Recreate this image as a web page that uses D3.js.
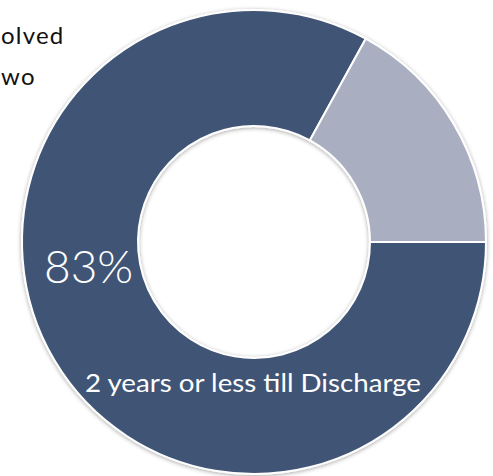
<!DOCTYPE html>
<html>
<head>
<meta charset="utf-8">
<script src="https://cdn.jsdelivr.net/npm/d3@7"></script>
<style>
  html, body { margin: 0; padding: 0; background: #ffffff; }
  svg { display: block; }
</style>
</head>
<body>
<svg id="chart" width="493" height="476"></svg>
<script>
// Share of cases by time remaining until discharge
const categories = ["2 years or less till Discharge", "More than 2 years"];
const values = [83, 17];
const colors = ["#415576", "#a9afc1"];
const headingLines = ["olved", "wo"];

const W = 493, H = 476;
const cx = 254, cy = 242;
const outerR = 232, innerR = 116;

const svg = d3.select("#chart");

const defs = svg.append("defs");
const shadow = defs.append("filter").attr("id", "soft")
  .attr("x", "-10%").attr("y", "-10%").attr("width", "120%").attr("height", "120%");
shadow.append("feDropShadow")
  .attr("dx", 0).attr("dy", 1).attr("stdDeviation", 2)
  .attr("flood-color", "#000").attr("flood-opacity", 0.35);

// heading text, partly running off the left edge
svg.append("g").selectAll("text")
  .data(headingLines)
  .join("text")
  .attr("x", 1)
  .attr("y", (d, i) => 44 + i * 41)
  .attr("font-family", "Lato, 'Open Sans', sans-serif")
  .attr("font-size", 24)
  .attr("letter-spacing", 1.2)
  .attr("fill", "#111")
  .text(d => d);

const pie = d3.pie()
  .sort(null)
  .startAngle(Math.PI / 2)
  .endAngle(Math.PI / 2 + 2 * Math.PI);

const arc = d3.arc().innerRadius(innerR).outerRadius(outerR);

const g = svg.append("g").attr("transform", `translate(${cx},${cy})`);

g.append("g").attr("filter", "url(#soft)")
  .selectAll("path")
  .data(pie(values))
  .join("path")
  .attr("d", arc)
  .attr("fill", (d, i) => colors[i])
  .attr("stroke", "#ffffff")
  .attr("stroke-width", 2);

const total = d3.sum(values);

// percentage label for the main slice
g.append("text")
  .attr("x", 44 - cx)
  .attr("y", 283 - cy)
  .attr("font-family", "Lato, 'Open Sans', sans-serif")
  .attr("font-weight", 300)
  .attr("font-size", 46)
  .attr("fill", "#ffffff")
  .text(Math.round(values[0] / total * 100) + "%");

// category label
g.append("text")
  .attr("x", 85 - cx)
  .attr("y", 392 - cy)
  .attr("font-family", "Lato, 'Open Sans', sans-serif")
  .attr("font-size", 25)
  .attr("textLength", 336)
  .attr("lengthAdjust", "spacingAndGlyphs")
  .attr("fill", "#ffffff")
  .text(categories[0]);
</script>
</body>
</html>
